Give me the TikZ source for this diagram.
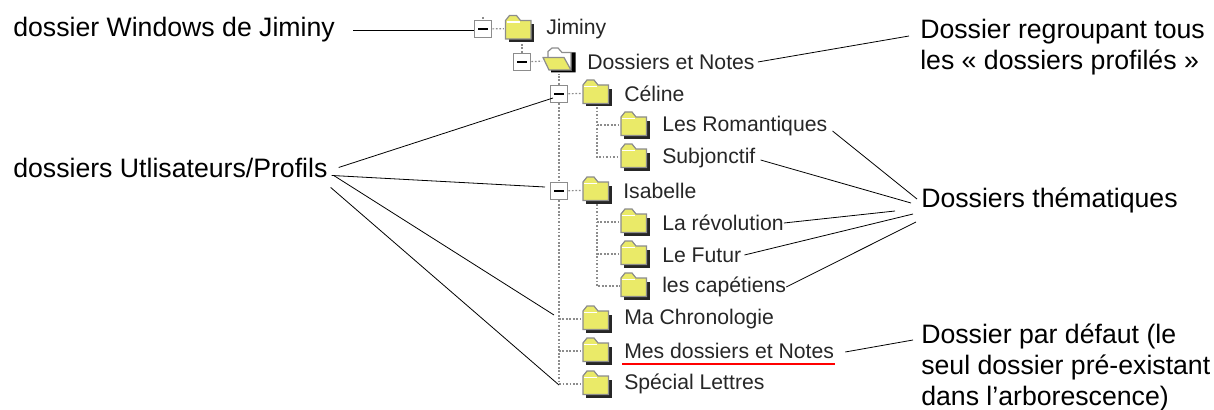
\documentclass[tikz,border=0pt]{standalone}
\usepackage{fontspec}
\setmainfont{Liberation Sans}
\usepackage{xcolor}
\usetikzlibrary{positioning}
\definecolor{folderyellow}{RGB}{234,234,104}
\definecolor{framegray}{RGB}{140,140,140}
\newcommand{\notefont}{\fontsize{20}{23.2}\selectfont}
\newcommand{\treefont}{\fontsize{15.9}{18}\selectfont}
\begin{document}
\begin{tikzpicture}[x=0.75pt, y=-0.75pt]
    \tikzstyle{note} = [inner sep=0pt, anchor=base west, align=left, font=\notefont]
    \tikzstyle{leaf} = [inner sep=0pt, anchor=west, font=\treefont, text=black!85]
    \tikzstyle{leader} = [draw=black, line width=0.6pt]
    \tikzstyle{dots} = [draw=framegray, line width=0.9pt, dash pattern=on 1.3pt off 1.3pt]
    \tikzstyle{toggle} = [rectangle, draw=framegray, line width=1.1pt, fill=white, minimum size=13pt, inner sep=0pt,
        path picture={\draw [black, line width=1.1pt] (-5,0) -- (5,0);}]
    \tikzstyle{folder} = [rectangle, minimum width=23pt, minimum height=21pt, inner sep=0pt,
        path picture={
            \fill [black!85] (-11,-4) -- (14.5,-4) -- (14.5,13.5) -- (-11,13.5) -- cycle;
            \draw [framegray, fill=folderyellow, line width=0.9pt] (-14,10.5) -- (-14,-8) -- (-10,-13) -- (-3,-13) -- (1,-8) -- (11.5,-8) -- (11.5,10.5) -- cycle;
            \draw [white, line width=1.1pt] (-13,-6.5) -- (0,-6.5);
        }]
    \tikzstyle{openfolder} = [rectangle, minimum width=25pt, minimum height=20pt, inner sep=0pt,
        path picture={
            \fill [black] (8,-8) -- (16.5,-8) -- (16.5,12) -- (-8,12) -- (-8,8) -- cycle;
            \draw [framegray, fill=white, line width=0.9pt] (-11,0) -- (-11,-9) -- (-7,-12.5) -- (-1,-12.5) -- (3,-8) -- (12,-8) -- (12,8) -- cycle;
            \draw [framegray, fill=folderyellow, line width=0.9pt] (-16,-3) -- (5,-3) -- (12,9.5) -- (-10,9.5) -- cycle;
        }]
    \useasboundingbox (0,0) rectangle (1214,410);

    % tree
    \node [toggle] (tgJiminy) at (483,29) {};
    \node [folder] (fJiminy) at (519.5,28.5) {};
    \node [leaf] (Jiminy) at (546,29) {Jiminy};
    \node [toggle] (tgDossiers) at (522,62) {};
    \node [openfolder] (fDossiers) at (559,60.5) {};
    \node [leaf] (Dossiers) at (587,62) {Dossiers et Notes};
    \node [toggle] (tgCeline) at (559,94) {};
    \node [folder] (fCeline) at (597,93) {};
    \node [leaf] (Celine) at (624,94) {Céline};
    \node [folder] (fRomantiques) at (635,125) {};
    \node [leaf] (Romantiques) at (662,126) {Les Romantiques};
    \node [folder] (fSubjonctif) at (635,157) {};
    \node [leaf] (Subjonctif) at (662,158) {Subjonctif};
    \node [toggle] (tgIsabelle) at (559,191) {};
    \node [folder] (fIsabelle) at (597,190) {};
    \node [leaf] (Isabelle) at (623,191) {Isabelle};
    \node [folder] (fRevolution) at (635,222) {};
    \node [leaf] (Revolution) at (662,223) {La révolution};
    \node [folder] (fFutur) at (635,254) {};
    \node [leaf] (Futur) at (662,255) {Le Futur};
    \node [folder] (fCapetiens) at (635,286) {};
    \node [leaf] (Capetiens) at (662,287) {les capétiens};
    \node [folder] (fChrono) at (597,319) {};
    \node [leaf] (Chrono) at (624,319) {Ma Chronologie};
    \node [folder] (fMes) at (597,351) {};
    \node [leaf] (Mes) at (624,351) {Mes dossiers et Notes};
    \node [folder] (fSpecial) at (597,384) {};
    \node [leaf] (Special) at (624,384) {Spécial Lettres};

    % notes
    \node [note] (noteWindows) at (13,37) {dossier Windows de Jiminy};
    \node [note] (noteProfils) at (13,177) {dossiers Utlisateurs/Profils};
    \node [note, anchor=west] (noteTous) at (920,47) {Dossier regroupant tous\\les « dossiers profilés »};
    \node [note] (noteThemes) at (921,207) {Dossiers thématiques};
    \node [note, anchor=west] (noteDefaut) at (921,367.5) {Dossier par défaut (le\\seul dossier pré-existant\\dans l’arborescence)};

    % dotted branches
    \coordinate (topJiminy) at (483,17);
    \draw [dots] (topJiminy) -- (tgJiminy.north);
    \draw [dots] (tgJiminy) -- (fJiminy);
    \draw [dots] (tgDossiers) -- (fDossiers);
    \draw [dots] (tgCeline) -- (fCeline);
    \draw [dots] (tgIsabelle) -- (fIsabelle);
    \draw [dots] (tgDossiers.north) -- (tgDossiers.north |- fJiminy.south);
    \draw [dots] (tgCeline.north) -- (tgCeline.north |- fDossiers.south);
    \draw [dots] (tgCeline.south) -- (tgIsabelle.north);
    \draw [dots] (tgIsabelle.south) |- (fSpecial.west);
    \draw [dots] (tgIsabelle.south |- fChrono) -- (fChrono.west);
    \draw [dots] (tgIsabelle.south |- fMes) -- (fMes.west);
    \draw [dots] (fCeline.south) |- (fSubjonctif.west);
    \draw [dots] (fCeline.south |- fRomantiques) -- (fRomantiques.west);
    \draw [dots] (fIsabelle.south) |- (fCapetiens.west);
    \draw [dots] (fIsabelle.south |- fRevolution) -- (fRevolution.west);
    \draw [dots] (fIsabelle.south |- fFutur) -- (fFutur.west);

    % leader lines
    \draw [leader] (noteWindows.east) ++(18,0) -- (noteWindows.east -| tgJiminy.west);
    \coordinate (endTous) at (909,36);
    \draw [leader] (Dossiers.east) ++(3,0) -- (endTous);
    \coordinate (endCeline) at (553,98);
    \coordinate (endIsabelle) at (545,187);
    \coordinate (endChrono) at (554,315);
    \coordinate (endSpecial) at (559,385);
    \draw [leader] (noteProfils.east) ++(11,0) -- (endCeline);
    \draw [leader] (noteProfils.east) ++(4,8) -- (endIsabelle);
    \draw [leader] (noteProfils.east) ++(6,8) -- (endChrono);
    \draw [leader] (noteProfils.east) ++(3,20) -- (endSpecial);
    \coordinate (thA) at (917,199);
    \coordinate (thB) at (911,203);
    \coordinate (thC) at (895,211);
    \coordinate (thD) at (913,214);
    \coordinate (thE) at (916,222);
    \draw [leader] (Romantiques.east) ++(5,5) -- (thA);
    \draw [leader] (Subjonctif.east) ++(5,2) -- (thB);
    \draw [leader] (Revolution.east) -- (thC);
    \draw [leader] (Futur.east) ++(3,0) -- (thD);
    \draw [leader] (Capetiens.east) -- (thE);
    \coordinate (endDefaut) at (913,340);
    \draw [leader] (Mes.east) ++(11,1) -- (endDefaut);

    % red underline
    \draw [red, line width=1pt] (Mes.west) ++(-2,13) -- ++(213,0);
\end{tikzpicture}
\end{document}
